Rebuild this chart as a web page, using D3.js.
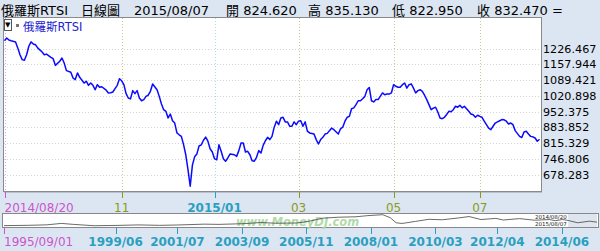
<!DOCTYPE html>
<html>
<head>
<meta charset="utf-8">
<script src="https://cdn.jsdelivr.net/npm/d3@7"></script>
<style>
  html, body { margin: 0; padding: 0; background: #dce6f2; }
  svg { display: block; font-family: "DejaVu Sans", "Noto Sans CJK TC", sans-serif; }
</style>
</head>
<body>
<svg id="chart" width="600" height="251"></svg>
<script>
// 俄羅斯RTSI 日線圖 — trading day index from 2014/08/20, closing value
const dayIdx = [0,1,2,3,5,6,7,8,9,10,11,12,13,14,15,17,18,19,21,22,23,25,26,27,28,30,31,32,33,34,36,37,38,39,40,41,42,43,44,46,47,48,49,50,51,52,53,54,55,56,57,58,59,60,61,62,63,64,65,66,67,69,70,71,72,73,74,75,76,77,78,79,80,81,82,83,84,85,86,87,88,89,90,91,92,93,94,95,96,97,98,99,100,101,102,104,105,106,107,108,109,110,111,112,113,114,115,116,117,118,119,120,121,122,123,124,125,126,127,128,129,130,131,132,133,134,135,136,137,138,140,141,142,143,144,145,146,147,148,149,151,152,153,154,155,156,157,158,159,160,161,162,163,164,165,166,167,168,169,171,172,173,174,175,176,177,178,179,180,181,182,183,184,185,186,187,188,189,190,191,192,193,194,195,196,197,198,199,200,201,202,203,204,205,206,207,208,209,210,211,212,213,214,215,216,217,218,219,220,221,222,223,224,225,226,227,228,229,230,231,233,234,235,236,237,238,239,240,241,242];
const closeVals = [1261,1273,1264,1261,1256,1230,1200,1179,1176,1200,1237,1256,1247,1244,1230,1212,1200,1203,1189,1183,1154,1172,1186,1164,1131,1124,1099,1092,1121,1102,1077,1085,1067,1077,1067,1048,1070,1059,1061,1046,1034,1035,1038,1053,1067,1096,1087,1070,1031,1012,1008,1044,1031,1044,1012,1000,1005,1019,1024,1041,1073,1048,1019,986,961,954,925,942,913,903,860,852,845,809,765,700,628,720,756,768,803,808,828,842,824,791,777,748,743,809,780,748,737,751,768,765,758,783,816,816,777,780,765,739,737,754,783,773,806,826,841,831,845,885,911,896,925,928,908,908,889,889,908,896,911,913,889,908,868,860,855,831,812,831,841,855,858,870,881,874,855,878,885,911,928,932,965,969,983,1000,1000,1009,1019,1048,1058,1000,995,1005,1005,1034,1026,1029,1029,1034,1070,1063,1059,1059,1070,1077,1055,1070,1073,1055,1034,1044,1048,1041,1024,1005,983,961,968,972,951,925,922,928,940,954,952,961,976,972,980,969,976,965,954,942,939,928,937,932,928,911,896,881,874,889,903,908,913,918,917,911,899,903,896,870,845,840,864,867,855,845,843,838,824,832.47];

const lastDay = 242;
const yTicks = [678.283, 746.806, 815.329, 883.852, 952.375, 1020.898, 1089.421, 1157.944, 1226.467];
const xTickIdx = [0, 53, 95, 133, 176, 215];
const xTickLabels = ["2014/08/20", "11", "2015/01", "03", "05", "07"];
const xTickKinds = ["start", "month", "year", "month", "month", "month"];

const headerParts = ["俄羅斯RTSI", "日線圖", "2015/08/07", "開 824.620", "高 835.130", "低 822.950", "收 832.470 ="];
const headerX = [1, 81, 134, 226, 308, 392, 477];
const seriesName = "俄羅斯RTSI";

// overview (navigator) 1995/09/01 - 2015/08/07, [year fraction, value]
const navYears = [1995.67,1996.5,1997.1,1997.6,1998.0,1998.7,1999.5,2000.2,2000.9,2001.5,2002.4,2002.9,2003.7,2004.3,2004.8,2005.5,2005.9,2006.4,2006.9,2007.5,2007.9,2008.4,2008.65,2008.85,2009.05,2009.5,2009.95,2010.4,2010.95,2011.3,2011.7,2012.2,2012.45,2013.0,2013.5,2014.0,2014.2,2014.45,2014.63,2014.95,2015.35,2015.6];
const navVals = [80,150,250,560,350,60,130,240,140,220,400,350,500,750,600,650,1000,1700,1900,2000,2250,2450,1800,700,550,1000,1450,1350,1750,2050,1400,1650,1300,1600,1250,1400,1150,1400,1200,700,1050,830];
const navTickYears = [1995.67, 1999.42, 2001.5, 2003.67, 2005.83, 2008.0, 2010.17, 2012.25, 2014.42];
const navTickLabels = ["1995/09/01","1999/06","2001/07","2003/09","2005/11","2008/01","2010/03","2012/04","2014/06"];

const colors = { start: "#cc55cc", month: "#8c9a1c", year: "#2a9fc0" };
const gridColors = { start: "#e6a0e6", month: "#c8c890", year: "#a8dcea" };

const svg = d3.select("#chart");
const plot = { left: 4, right: 541, top: 18, bottom: 191 };

const x = d3.scaleLinear().domain([0, lastDay]).range([4.5, 539.5]);
const y = d3.scaleLinear().domain([678.283, 1226.467]).range([174.7, 48.7]);

// header
svg.append("g").selectAll("text").data(headerParts).join("text")
  .attr("x", (d, i) => headerX[i]).attr("y", 14.5)
  .attr("font-size", 13).attr("fill", "#000").text(d => d);

// plot background
svg.append("rect").attr("x", plot.left).attr("y", plot.top)
  .attr("width", plot.right - plot.left).attr("height", plot.bottom - plot.top)
  .attr("fill", "#fff");

// horizontal grid
svg.append("g").selectAll("line").data(yTicks).join("line")
  .attr("x1", plot.left).attr("x2", plot.right)
  .attr("y1", d => Math.round(y(d)) + 0.5).attr("y2", d => Math.round(y(d)) + 0.5)
  .attr("stroke", "#d4d4d4").attr("stroke-dasharray", "1,2");

// vertical grid
svg.append("g").selectAll("line").data(xTickIdx).join("line")
  .attr("x1", d => Math.round(x(d)) + 0.5).attr("x2", d => Math.round(x(d)) + 0.5)
  .attr("y1", plot.top).attr("y2", plot.bottom)
  .attr("stroke", (d, i) => gridColors[xTickKinds[i]]).attr("stroke-dasharray", "1,2");

// y labels on the right
svg.append("g").selectAll("text").data(yTicks).join("text")
  .attr("x", 543).attr("y", d => y(d) + 4)
  .attr("font-size", 11.2).attr("fill", "#000")
  .text(d => d.toFixed(3));

// the series
const line = d3.line().x((d, i) => x(dayIdx[i])).y(d => y(d));
svg.append("path").datum(closeVals)
  .attr("d", line).attr("fill", "none")
  .attr("stroke", "#0a0aff").attr("stroke-width", 1.5).attr("stroke-linejoin", "round");

// frame
svg.append("rect").attr("x", plot.left - 0.5).attr("y", plot.top - 0.5)
  .attr("width", plot.right - plot.left + 1).attr("height", plot.bottom - plot.top + 1)
  .attr("fill", "none").attr("stroke", "#8a8a8a");
svg.append("line").attr("x1", plot.left).attr("x2", plot.right + 1)
  .attr("y1", plot.bottom + 1.5).attr("y2", plot.bottom + 1.5).attr("stroke", "#b8c0cc");

// legend
svg.append("rect").attr("x", 4.5).attr("y", 19.5).attr("width", 7).attr("height", 11)
  .attr("fill", "#fff").attr("stroke", "#555");
svg.append("text").attr("x", 5).attr("y", 27).attr("font-size", 7).text("▼");
svg.append("rect").attr("x", 16).attr("y", 24).attr("width", 3).attr("height", 3).attr("fill", "#777");
svg.append("text").attr("x", 23).attr("y", 31).attr("font-size", 11.5).attr("fill", "#2323d0").text(seriesName);

// x ticks and labels
const xt = svg.append("g");
xt.selectAll("line").data(xTickIdx).join("line")
  .attr("x1", d => Math.round(x(d)) + 0.5).attr("x2", d => Math.round(x(d)) + 0.5)
  .attr("y1", plot.bottom + 1).attr("y2", plot.bottom + 7)
  .attr("stroke", (d, i) => colors[xTickKinds[i]]);
xt.selectAll("text").data(xTickIdx).join("text")
  .attr("x", d => x(d))
  .attr("y", 211.5)
  .attr("text-anchor", (d, i) => xTickKinds[i] === "start" ? "start" : "middle")
  .attr("font-size", 12)
  .attr("font-weight", (d, i) => xTickKinds[i] === "year" ? "bold" : "normal")
  .attr("fill", (d, i) => colors[xTickKinds[i]])
  .text((d, i) => xTickLabels[i]);

// navigator
const nav = { left: 2, right: 598, top: 213, bottom: 227 };
const nx = d3.scaleLinear().domain([1995.67, 2015.6]).range([4, 597]);
const ny = d3.scaleLinear().domain([0, 2600]).range([nav.bottom - 1, nav.top + 1]);
svg.append("rect").attr("x", nav.left + 0.5).attr("y", nav.top + 0.5)
  .attr("width", nav.right - nav.left).attr("height", nav.bottom - nav.top)
  .attr("fill", "#fff").attr("stroke", "#888");
svg.append("text").attr("x", 236).attr("y", 225.8).attr("font-size", 11.5).attr("font-weight", "bold")
  .attr("font-style", "italic").attr("fill", "#a8d8a0").attr("opacity", 0.9).text("www.MoneyDJ.com");
svg.append("rect").attr("x", nx(2014.63)).attr("y", nav.top + 1)
  .attr("width", nx(2015.6) - nx(2014.63)).attr("height", nav.bottom - nav.top - 1)
  .attr("fill", "#c8d4e4").attr("opacity", 0.6);
svg.append("path").datum(navVals)
  .attr("d", d3.line().x((d, i) => nx(navYears[i])).y(d => ny(d)))
  .attr("fill", "none").attr("stroke", "#444").attr("stroke-width", 0.8);
svg.append("text").attr("x", 535).attr("y", 219).attr("font-size", 5.5).attr("fill", "#222").text("2014/08/20");
svg.append("text").attr("x", 535).attr("y", 226).attr("font-size", 5.5).attr("fill", "#222").text("2015/08/07");

const navt = svg.append("g");
navt.selectAll("line").data(navTickYears).join("line")
  .attr("x1", d => Math.round(nx(d)) + 0.5).attr("x2", d => Math.round(nx(d)) + 0.5)
  .attr("y1", nav.bottom + 1).attr("y2", nav.bottom + 7)
  .attr("stroke", (d, i) => i === 0 ? colors.start : colors.year);
navt.selectAll("text").data(navTickYears).join("text")
  .attr("x", d => nx(d))
  .attr("y", 246)
  .attr("text-anchor", (d, i) => i === 0 ? "start" : "middle")
  .attr("font-size", 12)
  .attr("font-weight", (d, i) => i === 0 ? "normal" : "bold")
  .attr("fill", (d, i) => i === 0 ? colors.start : colors.year)
  .text((d, i) => navTickLabels[i]);
</script>
</body>
</html>
